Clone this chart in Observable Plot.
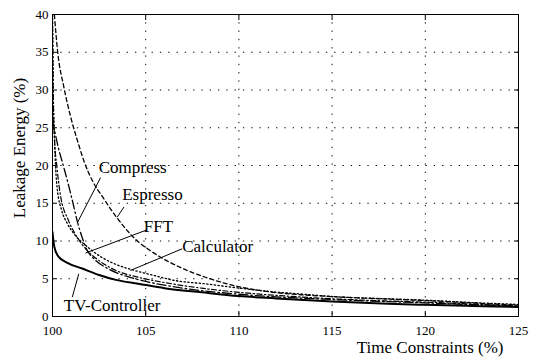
<!DOCTYPE html>
<html><head><meta charset="utf-8">
<script src="https://cdn.jsdelivr.net/npm/d3@7"></script>
<script src="https://cdn.jsdelivr.net/npm/@observablehq/plot@0.6"></script>
<style>
body{margin:0;background:#fff;}
</style>
</head><body><div id="chart"></div>
<script>
const xTicks = [100, 105, 110, 115, 120, 125];
const yTicks = [0, 5, 10, 15, 20, 25, 30, 35, 40];

const compressX = [100.0, 100.3, 100.6, 100.85, 101.1, 101.34, 101.6, 101.85, 102.2, 103, 104, 105, 107, 110, 115, 120, 125];
const compressY = [26, 22.5, 19.8, 17.5, 15, 12.5, 10.4, 8.8, 7.7, 6.3, 5.3, 4.65, 3.75, 2.95, 2.25, 1.8, 1.35];

const espressoX = [100.1, 100.28, 100.6, 101.0, 101.4, 101.7, 102.2, 102.7, 103.1, 103.45, 104.0, 104.6, 105.2, 105.8, 106.9, 108.2, 109.9, 111.7, 113.5, 115.3, 118, 120.1, 122.5, 125];
const espressoY = [40, 35, 30.5, 26.2, 22.8, 20.5, 17.7, 15.8, 14.3, 13.1, 11.4, 9.9, 8.8, 7.85, 6.45, 5.2, 4.0, 3.25, 2.85, 2.6, 2.3, 2.1, 1.8, 1.5];

const fftX = [100.0, 100.05, 100.12, 100.23, 100.41, 100.86, 101.2, 101.6, 102.5, 103.4, 104.6, 106, 108, 110, 112, 115, 118, 120, 122.5, 125];
const fftY = [40, 28, 23, 20, 16.3, 12.7, 11, 9.5, 7.4, 6.1, 5.2, 4.5, 3.75, 3.2, 2.8, 2.35, 2.05, 1.9, 1.65, 1.4];

const calcX = [100.0, 100.04, 100.1, 100.25, 100.5, 100.8, 101.2, 101.7, 102.6, 103.5, 104.4, 105.5, 106.5, 108.3, 109.9, 111.7, 113.5, 115.3, 118, 120.1, 122.5, 125];
const calcY = [40, 30, 24, 17, 14, 12.3, 10.8, 9.6, 7.9, 6.8, 6.1, 5.4, 4.8, 4.3, 3.8, 3.3, 2.95, 2.6, 2.35, 2.15, 1.85, 1.6];

const tvX = [100.0, 100.05, 100.1, 100.3, 100.8, 101.6, 102.5, 103.4, 104.6, 106, 108, 110, 112, 115, 118, 120, 122.5, 125];
const tvY = [11.2, 10, 9.2, 8.0, 7.1, 6.35, 5.5, 4.85, 4.35, 3.75, 3.2, 2.7, 2.4, 2.0, 1.7, 1.55, 1.4, 1.25];

const seriesNames = ["Compress", "Espresso", "FFT", "Calculator", "TV-Controller"];
const labelX = [102.48, 103.74, 104.9, 106.96, 100.61];
const labelY = [19.7, 16.16, 11.85, 9.23, 1.51];
const pointerX1 = [102.58, 103.83, 104.99, 106.96, 101.06];
const pointerY1 = [18.4, 14.5, 11.4, 8.97, 2.56];
const pointerX2 = [101.34, 103.47, 101.77, 104.18, 101.41];
const pointerY2 = [12.45, 13.15, 8.4, 6.1, 5.65];

const xTitle = "Time Constraints (%)";
const yTitle = "Leakage Energy (%)";

const toRows = (xs, ys) => xs.map((x, i) => ({x, y: ys[i]}));
const lineMark = (xs, ys, dash, w) => Plot.line(toRows(xs, ys), {
  x: "x", y: "y", stroke: "#000", strokeWidth: w, strokeDasharray: dash,
  curve: "monotone-x", clip: true
});

const labels = seriesNames.map((name, i) => ({name, x: labelX[i], y: labelY[i]}));
const pointers = seriesNames.map((name, i) => ({x1: pointerX1[i], y1: pointerY1[i], x2: pointerX2[i], y2: pointerY2[i]}));

const gridStyle = {stroke: "#000", strokeOpacity: 1, strokeWidth: 1, strokeDasharray: "1.3,7"};
const serif = "'Liberation Serif', 'Times New Roman', serif";

const chart = Plot.plot({
  width: 537, height: 362,
  marginLeft: 52, marginRight: 19, marginTop: 14, marginBottom: 46,
  style: {fontFamily: serif, fontSize: "13px", color: "#000", background: "#fff"},
  x: {domain: [100, 125]},
  y: {domain: [0, 40]},
  marks: [
    Plot.gridX(xTicks, gridStyle),
    Plot.gridY(yTicks, gridStyle),
    Plot.axisX(xTicks, {tickSize: 0, tickPadding: 9, label: null}),
    Plot.axisY(yTicks, {tickSize: 0, tickPadding: 4, label: null}),
    Plot.axisX(xTicks, {anchor: "bottom", tickSize: -5, text: null, label: null}),
    Plot.axisX(xTicks, {anchor: "top", tickSize: -5, text: null, label: null}),
    Plot.axisY(yTicks, {anchor: "left", tickSize: -5, text: null, label: null}),
    Plot.axisY(yTicks, {anchor: "right", tickSize: -5, text: null, label: null}),
    lineMark(calcX, calcY, "1.4,2.4", 1.3),
    lineMark(fftX, fftY, "5,2.5,1.4,2.5", 1.2),
    lineMark(espressoX, espressoY, "4,3", 1.3),
    lineMark(compressX, compressY, "9,3,1.5,3", 1.3),
    lineMark(tvX, tvY, null, 2),
    Plot.link(pointers, {x1: "x1", y1: "y1", x2: "x2", y2: "y2", stroke: "#000", strokeWidth: 1}),
    Plot.text(labels, {x: "x", y: "y", text: "name", textAnchor: "start", fontSize: 17, fill: "#000"}),
    Plot.text([xTitle], {frameAnchor: "bottom-right", textAnchor: "end", dx: -15, dy: 36, fontSize: 17, fill: "#000"}),
    Plot.text([yTitle], {frameAnchor: "left", textAnchor: "middle", rotate: -90, dx: -33.4, dy: -17.5, fontSize: 17, fill: "#000"}),
    Plot.frame({stroke: "#000", strokeWidth: 1})
  ]
});
document.getElementById("chart").appendChild(chart);
</script>
</body></html>
